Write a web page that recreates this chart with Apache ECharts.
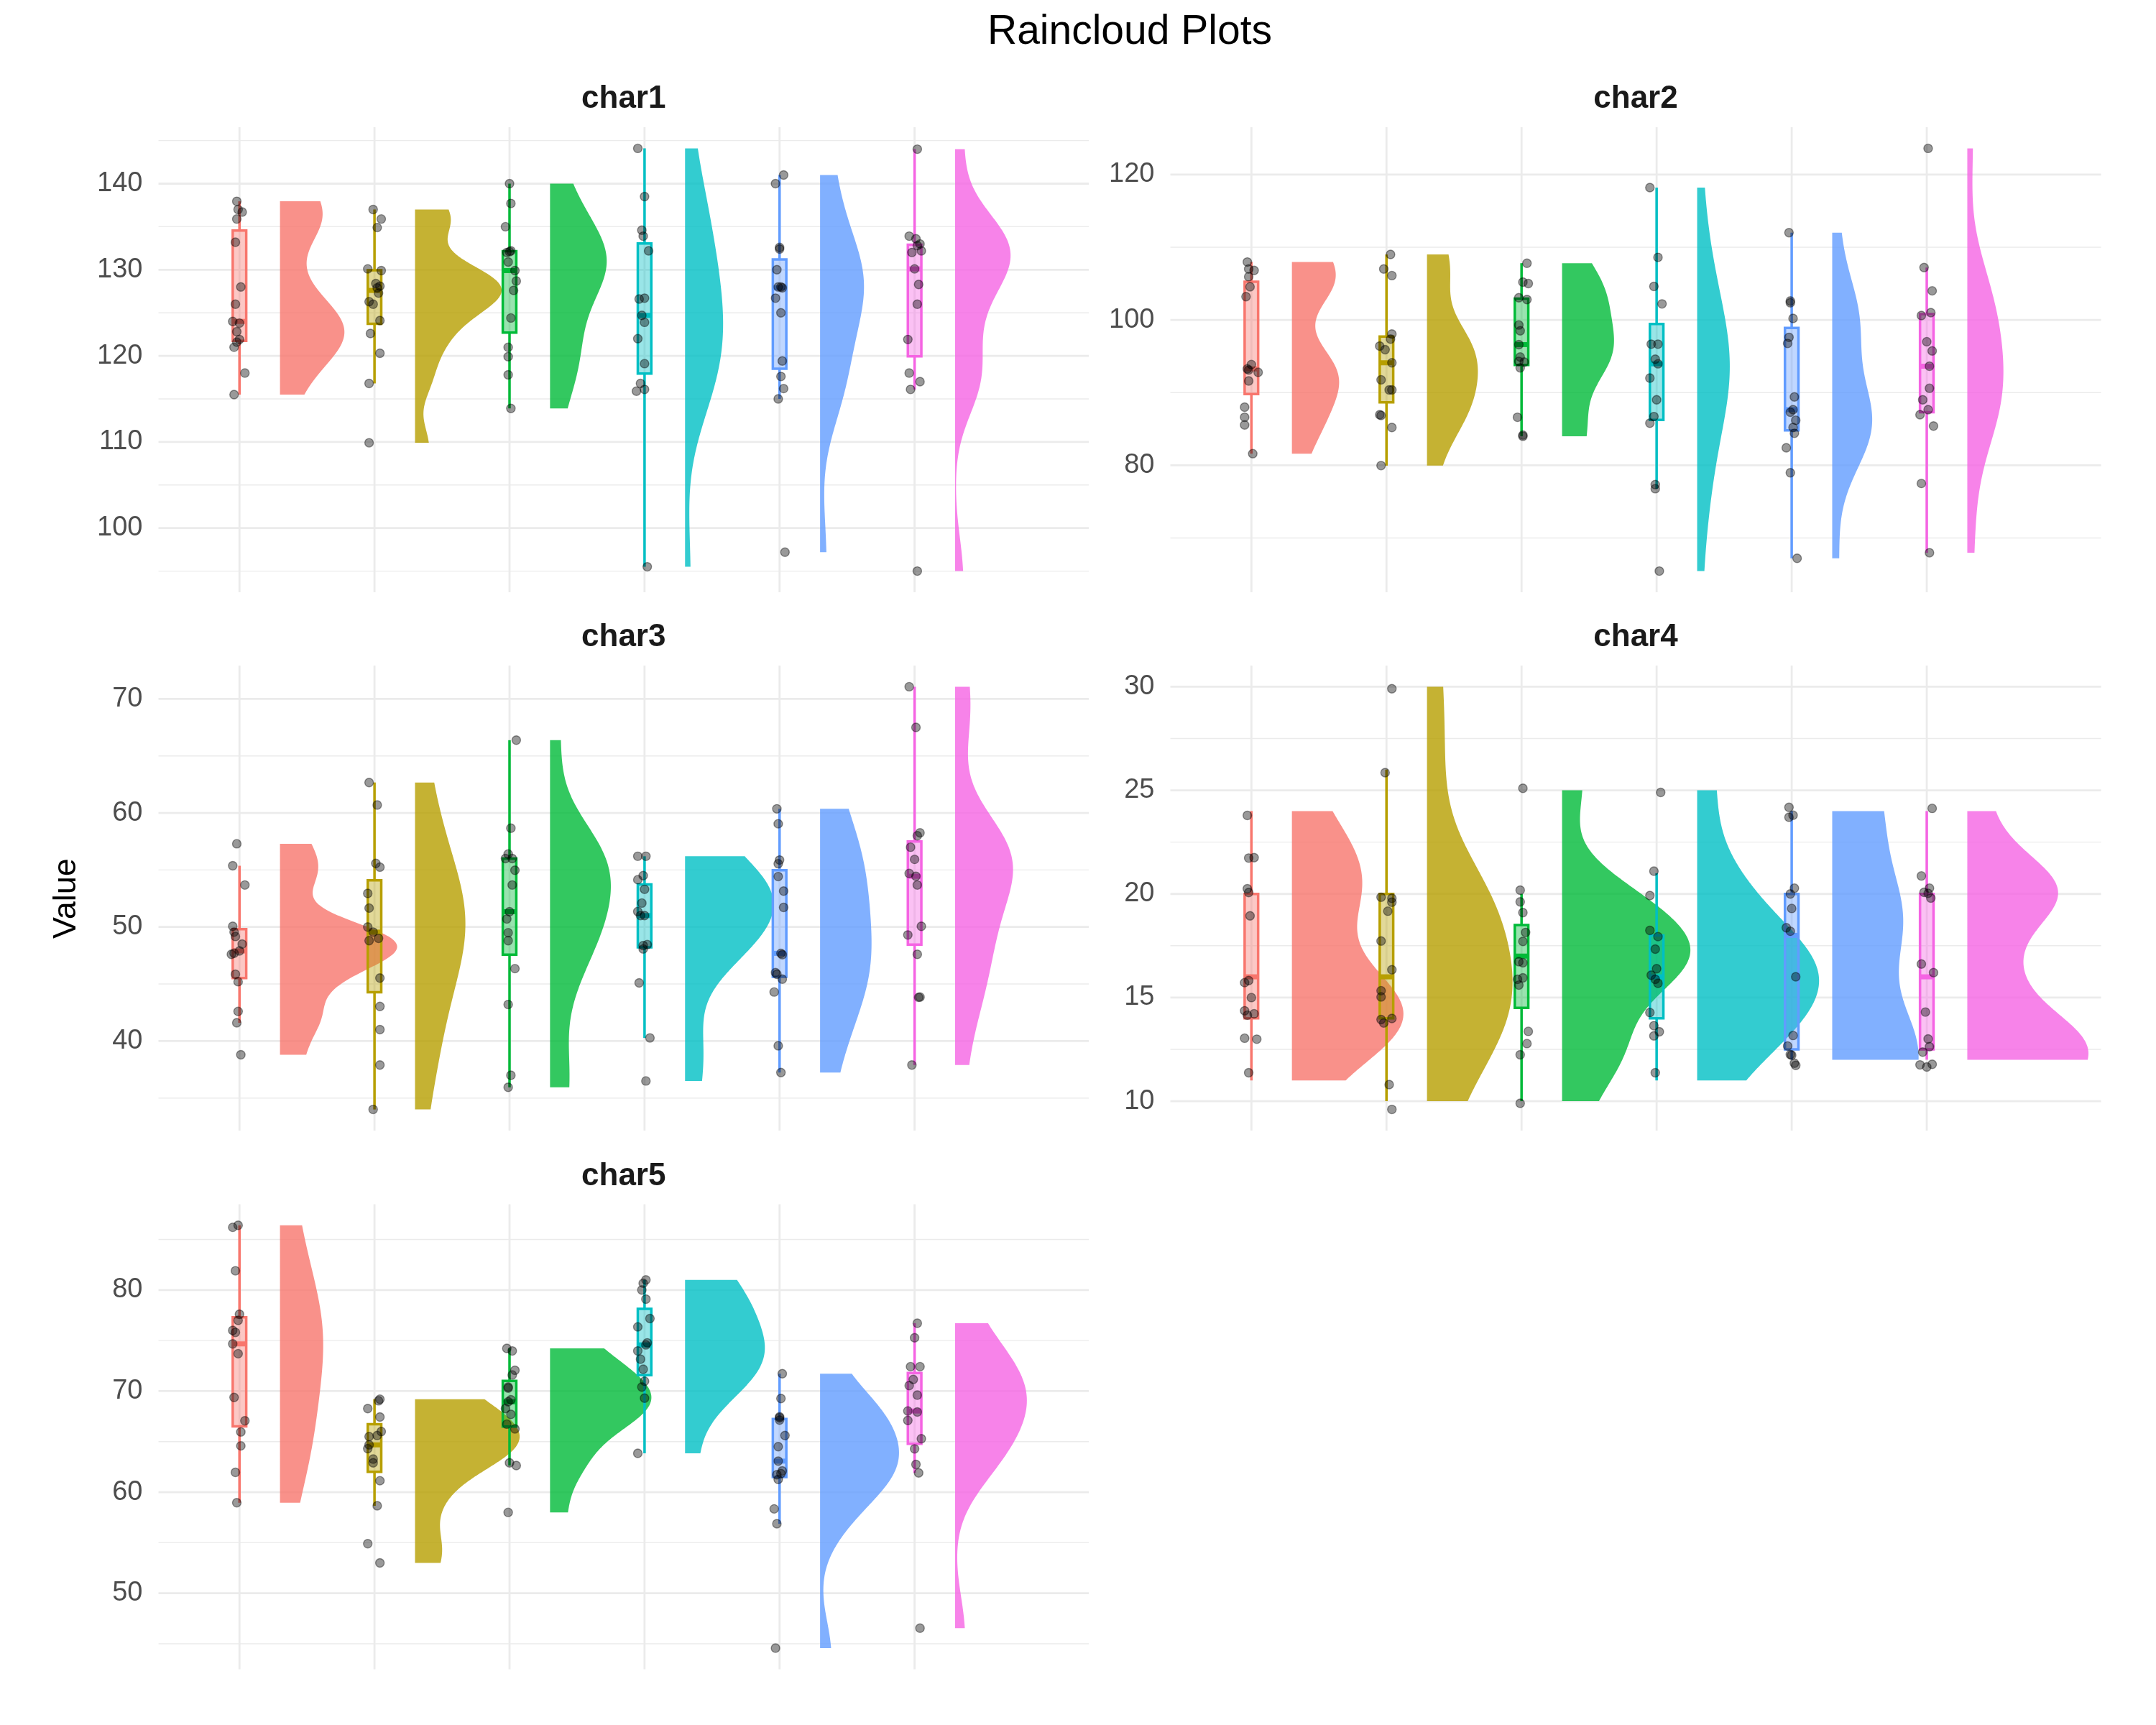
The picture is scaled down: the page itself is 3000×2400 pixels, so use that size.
<!DOCTYPE html>
<html>
<head>
<meta charset="utf-8">
<script src="https://cdn.jsdelivr.net/npm/echarts@6/dist/echarts.min.js"></script>
<style>
html,body{margin:0;padding:0;background:#ffffff;}
#chart{width:3000px;height:2400px;}
</style>
</head>
<body>
<div id="chart"></div>
<script>
// ---------------- DATA ----------------
const panelNames = ['char1', 'char2', 'char3', 'char4', 'char5'];
const groupNames = ['g1', 'g2', 'g3', 'g4', 'g5', 'g6'];

const char1Ticks = [100, 110, 120, 130, 140];
const char2Ticks = [80, 100, 120];
const char3Ticks = [40, 50, 60, 70];
const char4Ticks = [10, 15, 20, 25, 30];
const char5Ticks = [50, 60, 70, 80];

const char1Values = [
  [137.95,137.0,136.7,135.9,133.2,128.0,126.0,124.0,123.8,122.8,121.9,121.6,121.0,118.0,115.5],
  [137.0,135.9,134.9,130.1,129.9,128.4,128.1,127.9,127.3,126.3,126.0,124.1,122.6,120.3,116.8,109.9],
  [140.0,137.7,135.0,132.0,132.1,132.2,130.9,129.9,128.7,127.6,124.4,121.0,119.9,117.8,113.9],
  [144.1,138.5,134.6,133.9,132.2,126.6,126.7,124.7,123.9,122.0,119.1,116.8,115.9,116.1,95.5],
  [141.0,140.0,132.6,132.4,130.0,128.0,128.0,127.9,126.7,125.0,119.4,117.6,116.2,115.0,97.2],
  [144.0,133.9,133.6,133.0,132.8,132.2,132.0,130.1,128.3,126.0,121.9,118.0,117.0,116.1,95.0]
];
const char1Jitter = [
  [-2,-1,2,-2,-3,1,-3,-5,0,-2,0,-2,-4,4,-4],
  [-1,5,2,-5,5,1,4,2,3,-4,-1,4,-3,4,-4,-4],
  [0,1,-3,-2,0,1,-1,4,5,3,1,-1,-1,-1,1],
  [-5,0,-2,-1,3,-4,0,-2,0,-5,0,-3,-6,0,2],
  [3,-3,0,0,-2,-1,1,2,-3,1,2,1,3,-1,4],
  [2,-4,1,4,2,5,-2,0,3,2,-5,-4,4,-3,2]
];

const char2Values = [
  [107.96,107.0,106.8,105.95,104.55,103.2,93.86,93.26,93.1,92.8,91.6,88.0,86.6,85.55,81.6],
  [109.0,107.0,106.1,98.06,97.36,96.4,95.9,94.1,91.76,90.36,90.36,86.95,86.86,85.2,79.95],
  [107.8,105.2,105.0,103.05,102.8,99.3,98.5,96.6,94.9,94.3,94.2,93.4,86.6,84.15,84.0],
  [118.2,108.6,104.6,102.2,96.66,96.66,94.6,93.96,92.0,89.0,86.7,85.8,77.34,76.78,65.44],
  [112.0,102.6,102.35,100.2,97.6,96.76,89.4,87.65,87.3,86.2,85.2,84.4,82.4,78.97,67.2],
  [123.6,107.2,104.0,101.0,100.6,97.0,95.73,93.63,90.6,89.0,87.65,86.95,85.4,77.5,67.96]
];
const char2Jitter = [
  [-3,-2,2,-2,-1,-4,0,-3,-2,5,-2,-5,-5,-5,1],
  [3,-2,4,4,3,-5,-1,4,-4,2,4,-5,-4,4,-4],
  [4,1,5,-2,4,-2,-1,-2,-1,-2,2,-1,-3,1,1],
  [-5,1,-2,4,-4,1,-1,1,-5,0,-2,-5,-1,-1,2],
  [-2,-1,-1,1,-2,-3,2,1,-1,3,1,2,-4,-1,4],
  [1,-2,4,3,-4,0,4,2,2,-3,1,-5,5,-4,2]
];

const char3Values = [
  [57.3,55.37,53.68,50.06,49.55,49.17,48.5,47.9,47.7,47.6,45.85,45.2,42.6,41.6,38.8],
  [62.67,60.7,55.58,55.25,52.94,51.66,50.0,49.55,48.8,49.0,45.52,43.03,41.0,37.9,34.0],
  [66.38,58.66,56.4,56.0,56.0,54.98,53.68,51.34,50.7,49.5,48.8,46.35,43.2,37.0,35.94],
  [56.2,56.2,54.5,54.15,53.3,52.1,51.36,51.0,51.0,48.46,48.37,48.07,45.1,40.27,36.5],
  [60.36,59.05,55.87,55.55,54.42,53.15,51.72,47.69,47.57,46.0,45.85,45.43,44.3,39.58,37.24],
  [71.07,67.5,58.25,58.0,57.0,55.93,54.7,54.45,53.68,50.06,49.3,47.6,43.86,43.83,37.9]
];
const char3Jitter = [
  [-2,-5,4,-5,-4,-3,2,0,-4,-6,-3,-1,-1,-2,1],
  [-4,2,1,4,-5,-4,-5,-1,-4,3,4,4,4,4,-1],
  [5,1,-1,-3,2,4,2,0,-2,-1,-1,4,-1,1,-1],
  [-5,1,-1,-5,0,-2,-5,0,-3,2,-1,-1,-4,4,1],
  [-2,-1,0,-1,-1,3,3,1,2,-3,-2,2,-4,-1,1],
  [-4,1,4,2,-3,0,-4,1,2,5,-5,2,4,3,-2]
];

// char4 holds whole numbers; the dots are drawn where they appear (vertically jittered)
const char4Values = [
  [24,22,22,20,20,19,16,16,15,14,14,14,13,13,11],
  [30,26,20,20,20,19,18,16,15,15,14,14,14,11,10],
  [25,20,20,19,18,18,17,17,16,16,16,13,13,12,10],
  [25,21,20,18,18,17,16,16,16,16,14,14,13,13,11],
  [24,24,24,20,20,19,18,18,16,13,13,12,12,12,12],
  [24,21,20,20,20,20,17,16,14,13,13,12,12,12,12]
];
const char4Shown = [
  [23.79,21.73,21.75,20.25,20.07,18.94,15.72,15.82,15.0,14.36,14.15,14.22,13.04,12.99,11.37],
  [29.9,25.85,19.84,19.79,19.6,19.17,17.73,16.34,15.33,15.03,13.94,13.77,13.99,10.8,9.6],
  [25.1,20.18,19.62,19.1,18.14,17.71,16.73,16.68,15.88,15.95,15.6,13.37,12.78,12.24,9.9],
  [24.9,21.1,19.92,18.24,17.94,17.34,16.39,16.08,15.88,15.69,14.28,13.64,13.35,13.15,11.37],
  [24.18,23.8,23.7,20.28,20.0,19.3,18.37,18.2,16.0,13.17,12.66,12.25,12.22,11.83,11.73],
  [24.13,20.87,20.28,20.08,20.03,19.8,16.62,16.2,14.3,13.0,12.63,12.37,11.75,11.65,11.78]
];
const char4Jitter = [
  [-3,-2,2,-3,-2,-1,-5,-2,0,-5,-3,2,-5,4,-2],
  [4,-1,-4,4,4,1,-4,4,-4,-4,-4,-2,4,2,4],
  [1,-1,-1,1,3,1,-2,1,-3,1,-2,5,4,-1,-1],
  [3,-2,-5,-5,1,-1,0,-4,-1,1,-5,-2,2,-2,-1],
  [-2,1,-2,2,-1,0,-4,-1,3,1,-3,-1,0,2,3],
  [4,-4,2,-2,1,3,-4,5,-1,1,2,-3,-5,0,4]
];

const char5Values = [
  [86.4,86.2,81.9,77.6,77.0,76.0,75.8,74.67,73.7,69.37,67.06,65.95,64.58,61.96,58.95],
  [69.2,69.04,68.27,67.43,66.0,65.5,65.6,64.68,64.3,63.27,62.9,61.13,58.65,54.9,53.0],
  [74.23,73.97,72.06,71.6,70.4,70.3,69.14,68.94,68.27,67.7,66.73,66.26,62.9,62.63,58.0],
  [81.0,80.67,80.0,79.1,77.18,76.35,74.77,74.57,73.97,73.16,72.16,70.98,70.4,69.3,63.84],
  [71.72,69.27,67.46,67.36,67.13,65.6,64.5,63.07,62.1,61.73,61.83,61.26,58.34,56.87,44.57],
  [76.71,75.27,72.42,72.42,71.15,70.55,69.6,68.03,67.93,67.1,65.28,64.28,62.74,61.9,46.54]
];
const char5Jitter = [
  [-1,-5,-3,0,-1,-5,-3,-5,-1,-4,4,1,1,-3,-2],
  [4,3,-5,4,5,-4,2,-4,-5,-1,-1,4,2,-5,4],
  [-2,2,4,2,-1,-1,1,-1,-3,1,-2,4,0,5,-1],
  [1,-1,-2,1,4,-5,2,1,-5,-3,-1,0,-2,0,-5],
  [2,1,0,0,0,4,-1,-1,2,-2,1,-1,-4,-2,-3],
  [2,0,-3,4,-1,-4,2,-5,2,-5,5,0,1,3,4]
];

// ---------------- STYLE / LAYOUT ----------------
const groupColors = ['#F8766D', '#B79F00', '#00BA38', '#00BFC4', '#619CFF', '#F564E3'];
const FONT = "'Liberation Sans', Arial, Helvetica, sans-serif";
const gridBoxes = [
  {left: 220.5, top: 177, width: 1294.5, height: 647},
  {left: 1628.5, top: 177, width: 1295, height: 647},
  {left: 220.5, top: 926, width: 1294.5, height: 647},
  {left: 1628.5, top: 926, width: 1295, height: 647},
  {left: 220.5, top: 1675.4, width: 1294.5, height: 647}
];
const X_MIN = 0.4, X_MAX = 7.29;
const VIOLIN_NUDGE = 0.3;
const VIOLIN_MAX = 0.95;     // category widths for the tallest density of the whole figure
const BOUND_PAD = 1.0;       // reflection bounds sit this many bandwidths outside the data
const BOX_HALF = 0.05;

const panels = [
  {name: panelNames[0], raw: char1Values, shown: char1Values, jitter: char1Jitter, ticks: char1Ticks},
  {name: panelNames[1], raw: char2Values, shown: char2Values, jitter: char2Jitter, ticks: char2Ticks},
  {name: panelNames[2], raw: char3Values, shown: char3Values, jitter: char3Jitter, ticks: char3Ticks},
  {name: panelNames[3], raw: char4Values, shown: char4Shown, jitter: char4Jitter, ticks: char4Ticks},
  {name: panelNames[4], raw: char5Values, shown: char5Values, jitter: char5Jitter, ticks: char5Ticks}
];

// ---------------- STATISTICS ----------------
function sortNum(a) { return a.slice().sort((p, q) => p - q); }
function quantile(s, p) {
  const h = (s.length - 1) * p, lo = Math.floor(h), hi = Math.min(lo + 1, s.length - 1);
  return s[lo] + (h - lo) * (s[hi] - s[lo]);
}
function sdev(x) {
  const n = x.length, m = x.reduce((a, b) => a + b, 0) / n;
  return Math.sqrt(x.reduce((a, b) => a + (b - m) * (b - m), 0) / (n - 1));
}
function boxStats(vals) {
  const s = sortNum(vals);
  const q1 = quantile(s, 0.25), med = quantile(s, 0.5), q3 = quantile(s, 0.75);
  const iqr = q3 - q1;
  const inside = s.filter(v => v >= q1 - 1.5 * iqr - 1e-9 && v <= q3 + 1.5 * iqr + 1e-9);
  return {q1, med, q3, lo: inside[0], hi: inside[inside.length - 1]};
}
function bwNrd0(x) {
  const s = sortNum(x), hi = sdev(x);
  let lo = Math.min(hi, (quantile(s, 0.75) - quantile(s, 0.25)) / 1.34);
  if (!(lo > 0)) lo = hi || 1;
  return 0.9 * lo * Math.pow(x.length, -0.2);
}
// Sheather-Jones direct plug-in bandwidth (as R's bw.SJ(method = "dpi"))
function bwDpi(x) {
  const n = x.length, s = sortNum(x);
  const scale = Math.min(sdev(x), (quantile(s, 0.75) - quantile(s, 0.25)) / 1.349);
  if (!(scale > 0)) return bwNrd0(x);
  const phi = (h, order) => {
    let sum = 0;
    for (let i = 0; i < n; i++) for (let j = i + 1; j < n; j++) {
      const d = (x[i] - x[j]) / h, d2 = d * d;
      if (d2 >= 1000) continue;
      const e = Math.exp(-d2 / 2);
      sum += order === 4 ? e * (d2 * d2 - 6 * d2 + 3) : e * (d2 * d2 * d2 - 15 * d2 * d2 + 45 * d2 - 15);
    }
    if (order === 4) return (2 * sum + 3 * n) / (n * (n - 1) * Math.pow(h, 5) * Math.sqrt(2 * Math.PI));
    return (2 * sum - 15 * n) / (n * (n - 1) * Math.pow(h, 7) * Math.sqrt(2 * Math.PI));
  };
  const b = 1.23 * scale * Math.pow(n, -1 / 9);
  const TD = -phi(b, 6);
  if (!(TD > 0)) return bwNrd0(x);
  const S = phi(Math.pow(2.394 / (n * TD), 1 / 7), 4);
  if (!(S > 0)) return bwNrd0(x);
  return Math.pow(1 / (2 * Math.sqrt(Math.PI) * n) / S, 0.2);
}
// density reflected at bounds just outside the data, trimmed to the data range
function boundedDensity(x, m) {
  const s = sortNum(x), lo = s[0], hi = s[s.length - 1], bw = bwDpi(x), n = x.length;
  const L = lo - BOUND_PAD * bw, U = hi + BOUND_PAD * bw;
  const ys = [], ds = [];
  const k = u => Math.exp(-0.5 * u * u) / Math.sqrt(2 * Math.PI);
  for (let i = 0; i < m; i++) {
    const y = lo + (hi - lo) * i / (m - 1);
    let d = 0;
    for (const v of x) d += k((y - v) / bw) + k((y - (2 * L - v)) / bw) + k((y - (2 * U - v)) / bw);
    ys.push(y); ds.push(d / (n * bw));
  }
  return {lo, hi, ys, ds};
}
function rgba(hex, a) {
  const r = parseInt(hex.slice(1, 3), 16), g = parseInt(hex.slice(3, 5), 16), b = parseInt(hex.slice(5, 7), 16);
  return 'rgba(' + r + ',' + g + ',' + b + ',' + a + ')';
}

// ---------------- BUILD ----------------
panels.forEach(p => {
  p.violins = p.raw.map(v => boundedDensity(v, 240));
  p.boxes = p.raw.map(boxStats);
  const all = [].concat(...p.raw, ...p.shown);
  const mn = Math.min(...all), mx = Math.max(...all), pad = (mx - mn) * 0.05;
  p.yMin = mn - pad; p.yMax = mx + pad;
});
let globalMax = 0;
panels.forEach(p => p.violins.forEach(v => v.ds.forEach(d => { if (d > globalMax) globalMax = d; })));

const grids = [], xAxes = [], yAxes = [], series = [], titles = [];
titles.push({
  text: 'Raincloud Plots', left: 1572, top: 17, textAlign: 'center', padding: 0,
  textStyle: {fontFamily: FONT, fontSize: 57, fontWeight: 'normal', color: '#000000'}
});

panels.forEach((p, pi) => {
  const gb = gridBoxes[pi];
  grids.push({left: gb.left, top: gb.top, width: gb.width, height: gb.height, containLabel: false});
  xAxes.push({type: 'value', gridIndex: pi, min: X_MIN, max: X_MAX, show: false});
  yAxes.push({
    type: 'value', gridIndex: pi, min: p.yMin, max: p.yMax,
    axisLine: {show: false}, axisTick: {show: false, customValues: p.ticks}, splitLine: {show: false},
    axisLabel: {customValues: p.ticks, fontFamily: FONT, fontSize: 38, color: '#4D4D4D', margin: 22}
  });
  titles.push({
    text: p.name, left: gb.left + gb.width / 2, top: gb.top - 61, textAlign: 'center', padding: 0,
    textStyle: {fontFamily: FONT, fontSize: 44, fontWeight: 'bold', color: '#1A1A1A'}
  });

  // grid lines
  const lines = [];
  const t = p.ticks, step = t[1] - t[0];
  t.forEach(v => lines.push({kind: 0, v}));
  const minors = [t[0] - step / 2];
  for (let i = 0; i < t.length - 1; i++) minors.push((t[i] + t[i + 1]) / 2);
  minors.push(t[t.length - 1] + step / 2);
  minors.filter(v => v > p.yMin && v < p.yMax).forEach(v => lines.push({kind: 1, v}));
  groupNames.forEach((g, gi) => lines.push({kind: 2, v: gi + 1}));
  const mid = (p.yMin + p.yMax) / 2;
  series.push({
    type: 'custom', xAxisIndex: pi, yAxisIndex: pi, silent: true, z: 1,
    data: lines.map(() => [1, mid]),
    renderItem: function (params, api) {
      const l = lines[params.dataIndex], cs = params.coordSys;
      if (l.kind < 2) {
        const y = api.coord([1, l.v])[1];
        return {type: 'line', shape: {x1: cs.x, y1: y, x2: cs.x + cs.width, y2: y},
          style: {stroke: '#EBEBEB', lineWidth: l.kind === 0 ? 2.8 : 1.4}};
      }
      const x = api.coord([l.v, mid])[0];
      return {type: 'line', shape: {x1: x, y1: cs.y, x2: x, y2: cs.y + cs.height},
        style: {stroke: '#EBEBEB', lineWidth: 2.8}};
    }
  });

  // half violins
  series.push({
    type: 'custom', xAxisIndex: pi, yAxisIndex: pi, silent: true, z: 2,
    data: p.violins.map((v, gi) => [gi + 1, mid]),
    renderItem: function (params, api) {
      const gi = params.dataIndex, v = p.violins[gi], x0 = gi + 1 + VIOLIN_NUDGE;
      const pts = [api.coord([x0, v.lo])];
      for (let k = 0; k < v.ys.length; k++) pts.push(api.coord([x0 + v.ds[k] / globalMax * VIOLIN_MAX, v.ys[k]]));
      pts.push(api.coord([x0, v.hi]));
      return {type: 'polygon', shape: {points: pts}, style: {fill: rgba(groupColors[gi], 0.8), stroke: null}};
    }
  });

  // box plots
  series.push({
    type: 'custom', xAxisIndex: pi, yAxisIndex: pi, silent: true, z: 3,
    data: p.boxes.map((b, gi) => [gi + 1, b.med]),
    renderItem: function (params, api) {
      const gi = params.dataIndex, b = p.boxes[gi], c = groupColors[gi], x = gi + 1;
      const top = api.coord([x - BOX_HALF, b.q3]), bot = api.coord([x + BOX_HALF, b.q1]);
      const cx = api.coord([x, b.med])[0];
      const wHi = api.coord([x, b.hi])[1], wLo = api.coord([x, b.lo])[1], yMed = api.coord([x, b.med])[1];
      return {type: 'group', children: [
        {type: 'line', shape: {x1: cx, y1: top[1], x2: cx, y2: wHi}, style: {stroke: c, lineWidth: 3.5}},
        {type: 'line', shape: {x1: cx, y1: bot[1], x2: cx, y2: wLo}, style: {stroke: c, lineWidth: 3.5}},
        {type: 'rect', shape: {x: top[0], y: top[1], width: bot[0] - top[0], height: bot[1] - top[1]},
          style: {fill: rgba(c, 0.4), stroke: c, lineWidth: 3.5}},
        {type: 'line', shape: {x1: top[0], y1: yMed, x2: bot[0], y2: yMed}, style: {stroke: c, lineWidth: 7}}
      ]};
    }
  });

  // jittered points
  const pts = [];
  p.shown.forEach((vals, gi) => vals.forEach((v, k) => pts.push([gi + 1 + p.jitter[gi][k] / 100, v])));
  series.push({
    type: 'scatter', xAxisIndex: pi, yAxisIndex: pi, silent: true, z: 4,
    data: pts, symbol: 'circle', symbolSize: 12,
    itemStyle: {color: 'rgba(0,0,0,0.5)', borderColor: 'rgba(0,0,0,0.5)', borderWidth: 1.4}
  });
});

const chart = echarts.init(document.getElementById('chart'), null, {renderer: 'canvas'});
chart.setOption({
  backgroundColor: '#ffffff',
  animation: false,
  title: titles,
  grid: grids,
  xAxis: xAxes,
  yAxis: yAxes,
  series: series,
  graphic: [{
    type: 'text', x: 93, y: 1250, rotation: Math.PI / 2, silent: true,
    style: {text: 'Value', font: '45px ' + FONT, fill: '#000000', textAlign: 'center', textVerticalAlign: 'middle'}
  }]
});
</script>
</body>
</html>
